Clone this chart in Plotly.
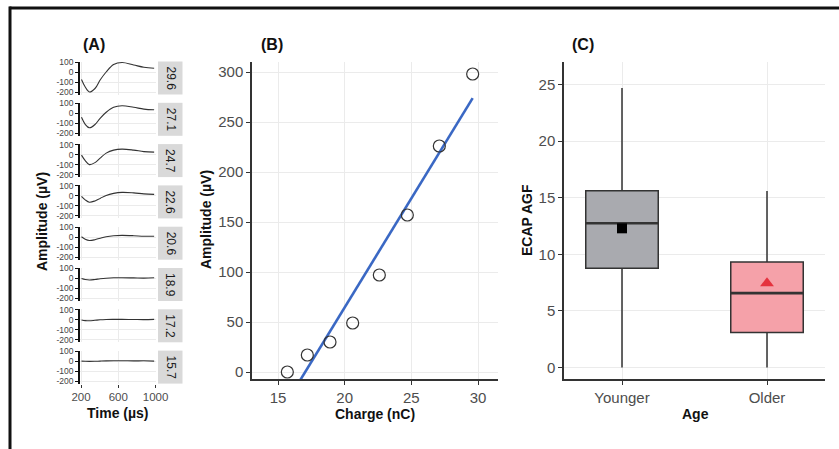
import numpy as np
import plotly.graph_objects as go

W, H = 839, 449
FONT = "Liberation Sans, Arial, sans-serif"

# ---------------- Panel A: ECAP waveforms ----------------
time_us = [205, 245, 290, 350, 405, 470, 550, 640, 765, 875, 985]
charge_labels = ["29.6", "27.1", "24.7", "22.6", "20.6", "18.9", "17.2", "15.7"]
wave_29_6 = [-75, -150, -200, -165, -80, 0, 75, 95, 70, 47, 37]
wave_27_1 = [-40, -110, -145, -112, -50, 10, 60, 75, 60, 42, 35]
wave_24_7 = [-5, -60, -100, -80, -35, 15, 45, 55, 45, 30, 25]
wave_22_6 = [-5, -40, -63, -50, -25, 5, 25, 35, 30, 20, 15]
wave_20_6 = [5, -20, -33, -25, -10, 5, 15, 18, 15, 10, 10]
wave_18_9 = [0, -10, -15, -10, -3, 3, 7, 8, 6, 4, 8]
wave_17_2 = [-2, -8, -10, -5, 0, 3, 4, 4, 3, 2, 4]
wave_15_7 = [0, -2, -3, -2, 0, 2, 3, 4, 2, 3, 0]
waves = [wave_29_6, wave_27_1, wave_24_7, wave_22_6,
         wave_20_6, wave_18_9, wave_17_2, wave_15_7]
wave_ticks = [-200, -100, 0, 100]
wave_tick_text = ["-200", "-100", "0", "100"]
time_ticks = [200, 600, 1000]

# ---------------- Panel B: amplitude growth ----------------
charge_nc = [15.7, 17.2, 18.9, 20.6, 22.6, 24.7, 27.1, 29.6]
amplitude_uv = [0, 17, 30, 49, 97, 157, 226, 298]

# ---------------- Panel C: ECAP AGF by age ----------------
age_groups = ["Younger", "Older"]
agf_lower = [0.0, 0.0]
agf_q1 = [8.76, 3.10]
agf_median = [12.75, 6.57]
agf_q3 = [15.62, 9.32]
agf_upper = [24.7, 15.6]
agf_mean = [12.3, 7.45]
box_fill = ["#A9AAAF", "#F5A1A9"]
mean_symbol = ["square", "triangle-up"]
mean_color = ["#000000", "#E5323E"]


def xd(a, b):
    return [a / W, b / W]


def yd(t, b):
    return [1 - b / H, 1 - t / H]


def px(x):
    return x / W


def py(y):
    return 1 - y / H


fig = go.Figure()
layout = dict(
    width=W, height=H, margin=dict(l=0, r=0, t=0, b=0, autoexpand=False),
    paper_bgcolor="white", plot_bgcolor="white",
    font=dict(family=FONT, color="#222"), showlegend=False,
)
annotations = []
shapes = []

GRID = "#EBEBEB"
# Panel A rows
pitch = 41.3
for i, (lab, w) in enumerate(zip(charge_labels, waves)):
    n = i + 1
    top = 61.5 + pitch * i
    bot = 94.5 + pitch * i
    xa = "xaxis" if n == 1 else f"xaxis{n}"
    ya = "yaxis" if n == 1 else f"yaxis{n}"
    xr = "x" if n == 1 else f"x{n}"
    yr = "y" if n == 1 else f"y{n}"
    last = (i == len(charge_labels) - 1)
    layout[xa] = dict(domain=xd(80, 156), range=[189, 1005], anchor=yr,
                      tickvals=time_ticks, showgrid=True, gridcolor=GRID, gridwidth=0.6,
                      zeroline=False, showline=False,
                      showticklabels=last, ticks="outside" if last else "",
                      ticklen=3, tickcolor="#333",
                      tickfont=dict(size=11.5, color="#4D4D4D", family=FONT))
    layout[ya] = dict(domain=yd(top, bot), range=[-225, 105], anchor=xr,
                      tickvals=wave_ticks, ticktext=wave_tick_text,
                      showgrid=True, gridcolor=GRID, gridwidth=0.6,
                      zeroline=False, showline=True, linecolor="#111", linewidth=1.6,
                      ticks="outside", ticklen=3, tickcolor="#111", tickwidth=1,
                      tickfont=dict(size=8.5, color="#444", family=FONT))
    fig.add_trace(go.Scatter(x=time_us, y=w, mode="lines",
                             line=dict(color="#333", width=1.1, shape="spline"),
                             xaxis=xr, yaxis=yr, hoverinfo="skip"))
    shapes.append(dict(type="rect", xref="paper", yref="paper",
                       x0=px(158), x1=px(182.5), y0=py(bot), y1=py(top),
                       fillcolor="#D9D9D9", line=dict(width=0), layer="below"))
    annotations.append(dict(text=lab, x=px(170.5), y=py((top + bot) / 2),
                            xref="paper", yref="paper", showarrow=False,
                            xanchor="center", yanchor="middle",
                            textangle=90, font=dict(size=12, color="#1A1A1A", family=FONT)))

# Panel B
layout["xaxis9"] = dict(domain=xd(252, 498), range=[13.05, 31.5], anchor="y9",
                        tickvals=[15, 20, 25, 30], showgrid=True, gridcolor=GRID,
                        zeroline=False, showline=True, linecolor="#333", linewidth=1.5,
                        ticks="outside", ticklen=4, tickcolor="#333",
                        tickfont=dict(size=15, color="#4D4D4D", family=FONT))
layout["yaxis9"] = dict(domain=yd(62, 379), range=[-7, 310], anchor="x9",
                        tickvals=[0, 50, 100, 150, 200, 250, 300], showgrid=True, gridcolor=GRID,
                        zeroline=False, showline=True, linecolor="#333", linewidth=1.5,
                        ticks="outside", ticklen=4, tickcolor="#333",
                        tickfont=dict(size=15, color="#4D4D4D", family=FONT))
slope, intercept = np.polyfit(charge_nc, amplitude_uv, 1)
fit_x = [min(charge_nc), max(charge_nc)]
fit_y = [slope * v + intercept for v in fit_x]
fig.add_trace(go.Scatter(x=fit_x, y=fit_y, mode="lines",
                         line=dict(color="#3A68C4", width=2.6),
                         xaxis="x9", yaxis="y9", hoverinfo="skip"))
fig.add_trace(go.Scatter(x=charge_nc, y=amplitude_uv, mode="markers",
                         marker=dict(symbol="circle-open", size=12,
                                     color="#333", line=dict(width=1.2, color="#333")),
                         xaxis="x9", yaxis="y9", cliponaxis=False))

# Panel C
layout["xaxis10"] = dict(domain=xd(564, 825), range=[0.6, 2.4], anchor="y10",
                         tickvals=[1, 2], ticktext=age_groups, showgrid=True, gridcolor=GRID,
                         zeroline=False, showline=True, linecolor="#333", linewidth=1.5,
                         ticks="outside", ticklen=4, tickcolor="#333",
                         tickfont=dict(size=15, color="#4D4D4D", family=FONT))
layout["yaxis10"] = dict(domain=yd(62, 379), range=[-1.02, 27.0], anchor="x10",
                         tickvals=[0, 5, 10, 15, 20, 25], showgrid=True, gridcolor=GRID,
                         zeroline=False, showline=True, linecolor="#333", linewidth=1.5,
                         ticks="outside", ticklen=4, tickcolor="#333",
                         tickfont=dict(size=15, color="#4D4D4D", family=FONT))
for k in range(len(age_groups)):
    pos = k + 1
    fig.add_trace(go.Box(x=[pos], q1=[agf_q1[k]], median=[agf_median[k]], q3=[agf_q3[k]],
                         lowerfence=[agf_lower[k]], upperfence=[agf_upper[k]],
                         width=0.5, whiskerwidth=0, fillcolor=box_fill[k],
                         line=dict(color="#333", width=1.5), boxpoints=False,
                         xaxis="x10", yaxis="y10", hoverinfo="skip"))
    fig.add_trace(go.Scatter(x=[pos - 0.25, pos + 0.25], y=[agf_median[k]] * 2, mode="lines",
                             line=dict(color="#333", width=2.6),
                             xaxis="x10", yaxis="y10", hoverinfo="skip"))
    fig.add_trace(go.Scatter(x=[pos], y=[agf_mean[k]], mode="markers",
                             marker=dict(symbol=mean_symbol[k], size=10 if k == 0 else 12,
                                         color=mean_color[k]),
                             xaxis="x10", yaxis="y10", hoverinfo="skip"))

# Titles & axis labels
def label(text, x, y, size=14, angle=0):
    annotations.append(dict(text=f"<b>{text}</b>", x=px(x), y=py(y), xref="paper", yref="paper",
                            showarrow=False, textangle=angle, xanchor="center", yanchor="middle",
                            font=dict(size=size, color="#111", family=FONT)))

label("(A)", 94, 44, 16)
label("(B)", 272, 44, 16)
label("(C)", 583, 44, 16)
label("Time (µs)", 118, 413, 14)
label("Amplitude (µV)", 42, 222, 14, -90)
label("Amplitude (µV)", 206, 220, 14, -90)
label("Charge (nC)", 375, 414, 14)
label("ECAP AGF", 527, 220, 14, -90)
label("Age", 695, 414, 14)

# outer frame
shapes.append(dict(type="line", xref="paper", yref="paper", x0=px(9.5), x1=1.0,
                   y0=py(8), y1=py(8), line=dict(color="#111", width=3)))
shapes.append(dict(type="line", xref="paper", yref="paper", x0=px(10), x1=px(10),
                   y0=py(6.5), y1=0.0, line=dict(color="#111", width=3)))

layout["annotations"] = annotations
layout["shapes"] = shapes
fig.update_layout(**layout)
fig.write_html("out.html", config={"displayModeBar": False},
               post_script="document.body.style.margin='0px';document.body.style.overflow='hidden';")
